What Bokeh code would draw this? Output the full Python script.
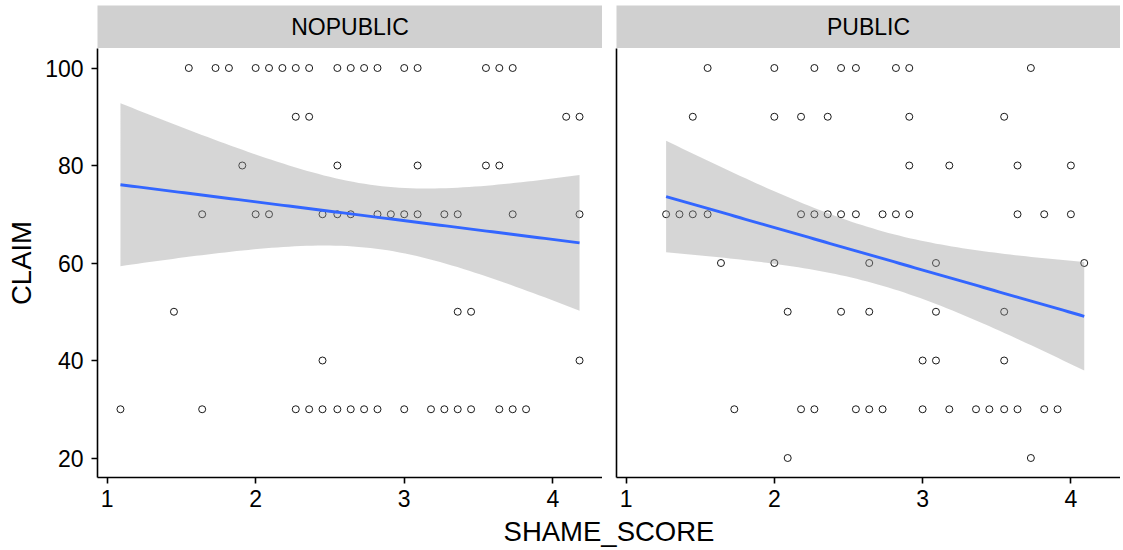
import numpy as np
from bokeh.plotting import figure
from bokeh.layouts import column, row
from bokeh.models import Range1d, FixedTicker
from bokeh.core.properties import value
from bokeh.embed import file_html
from bokeh.resources import INLINE

# ---------------- data (overplotted points appear twice) ----------------
panels = ["NOPUBLIC", "PUBLIC"]

nopublic_shame = [
    1.55, 1.73, 1.82, 2.00, 2.09, 2.09, 2.18, 2.27, 2.36, 2.55, 2.64, 2.73, 2.73, 2.82, 3.00, 3.00, 3.09, 3.55, 3.64, 3.73,
    2.27, 2.36, 2.36, 4.09, 4.18,
    1.91, 2.55, 3.09, 3.09, 3.55, 3.64,
    1.64, 2.00, 2.09, 2.45, 2.45, 2.55, 2.64, 2.64, 2.82, 2.91, 3.00, 3.09, 3.27, 3.36, 3.73, 4.18, 4.18,
    1.45, 3.36, 3.45,
    2.45, 4.18,
    1.09, 1.64, 2.27, 2.36, 2.45, 2.55, 2.64, 2.73, 2.82, 3.00, 3.18, 3.27, 3.36, 3.45, 3.64, 3.73, 3.82,
]
nopublic_claim = (
    [100] * 20 + [90] * 5 + [80] * 6 + [70] * 17 + [50] * 3 + [40] * 2 + [30] * 17
)

public_shame = [
    1.55, 2.00, 2.27, 2.45, 2.55, 2.82, 2.91, 3.73,
    1.45, 2.00, 2.18, 2.36, 2.91, 3.55,
    2.91, 3.18, 3.64, 4.00,
    1.27, 1.27, 1.27, 1.27, 1.36, 1.36, 1.45, 1.55, 2.18, 2.27, 2.36, 2.45, 2.55, 2.55, 2.73, 2.82, 2.91, 3.64, 3.82, 4.00,
    1.64, 2.00, 2.64, 3.09, 4.09,
    2.09, 2.45, 2.64, 3.09, 3.09, 3.09, 3.55,
    3.00, 3.09, 3.55,
    1.73, 2.18, 2.27, 2.55, 2.64, 2.73, 3.00, 3.18, 3.36, 3.45, 3.55, 3.64, 3.82, 3.91, 3.91,
    2.09, 3.73, 3.73,
]
public_claim = (
    [100] * 8 + [90] * 6 + [80] * 4 + [70] * 20 + [60] * 5 + [50] * 7 + [40] * 3 + [30] * 15 + [20] * 3
)

x_ticks = [1, 2, 3, 4]
y_ticks = [20, 40, 60, 80, 100]

FONT = "Liberation Sans"


def tcrit(df):
    z = 1.959964
    return z + (z ** 3 + z) / (4 * df) + (5 * z ** 5 + 16 * z ** 3 + 3 * z) / (96 * df ** 2)


def lm_band(x, y, npts=80):
    x = np.asarray(x, float)
    y = np.asarray(y, float)
    n = len(x)
    b, a = np.polyfit(x, y, 1)
    xs = np.linspace(x.min(), x.max(), npts)
    fit = a + b * xs
    resid = y - (a + b * x)
    s = np.sqrt(np.sum(resid ** 2) / (n - 2))
    sxx = np.sum((x - x.mean()) ** 2)
    se = s * np.sqrt(1.0 / n + (xs - x.mean()) ** 2 / sxx)
    t = tcrit(n - 2)
    return xs, fit, fit - t * se, fit + t * se


allx = nopublic_shame + public_shame
xmin, xmax = min(allx), max(allx)
xpad = (xmax - xmin) * 0.05
XR = (xmin - xpad, xmax + xpad)
ymin, ymax = min(nopublic_claim + public_claim), max(nopublic_claim + public_claim)
ypad = (ymax - ymin) * 0.05
YR = (ymin - ypad, ymax + ypad)

TOP_B = 5
STRIP_H = 43
FRAME_H = 429
BOT_B = 35
TITLE_H = 36
LEFT_B = 97
GAP = 14
FW_L = 505
FW_R = 504

TICK_FS = "23px"
TITLE_FS = "27.5px"
STRIP_FS = "23px"
STRIP_FILL = "#D0D0D0"


def make_strip(label, left_border, fw):
    s = figure(x_range=Range1d(0, 1), y_range=Range1d(0, 1),
               frame_width=fw, frame_height=STRIP_H,
               min_border_left=left_border, min_border_right=0,
               min_border_top=TOP_B, min_border_bottom=0,
               x_axis_location=None, y_axis_location=None,
               toolbar_location=None, output_backend="svg")
    s.background_fill_color = STRIP_FILL
    s.border_fill_color = "white"
    s.outline_line_color = None
    s.grid.visible = False
    s.text(x=[0.5], y=[0.5], text=[label], text_align="center", text_baseline="middle",
           text_font=value(FONT), text_font_size=STRIP_FS, text_color="black")
    return s


def make_panel(xv, yv, left_border, fw, show_y):
    p = figure(x_range=Range1d(*XR), y_range=Range1d(*YR),
               frame_width=fw, frame_height=FRAME_H,
               min_border_left=left_border, min_border_right=0,
               min_border_top=0, min_border_bottom=BOT_B,
               toolbar_location=None, output_backend="svg")
    p.outline_line_color = None
    p.grid.visible = False
    p.background_fill_color = "white"

    for ax in (p.xaxis[0], p.yaxis[0]):
        ax.axis_line_color = "black"
        ax.axis_line_width = 1.6
        ax.major_tick_line_color = "black"
        ax.major_tick_line_width = 1.6
        ax.major_tick_in = 0
        ax.major_tick_out = 6
        ax.minor_tick_line_color = None
        ax.major_label_text_font = FONT
        ax.major_label_text_font_size = TICK_FS
        ax.major_label_text_color = "black"
    p.xaxis[0].ticker = FixedTicker(ticks=x_ticks)
    p.xaxis[0].major_label_standoff = 6

    if show_y:
        p.yaxis[0].ticker = FixedTicker(ticks=y_ticks)
        p.yaxis[0].major_label_standoff = 8
        p.yaxis[0].axis_label = "CLAIM"
        p.yaxis[0].axis_label_text_font = FONT
        p.yaxis[0].axis_label_text_font_size = TITLE_FS
        p.yaxis[0].axis_label_text_font_style = "normal"
        p.yaxis[0].axis_label_text_color = "black"
        p.yaxis[0].axis_label_standoff = 5
    else:
        p.yaxis[0].ticker = FixedTicker(ticks=[])
        p.yaxis[0].major_tick_out = 0
        p.yaxis[0].major_label_standoff = 0

    # overplotted observations are drawn once (as a single visible circle)
    pts = list(dict.fromkeys(zip(xv, yv)))
    p.scatter([q[0] for q in pts], [q[1] for q in pts], marker="circle", size=7,
              fill_color=None, line_color="black", line_width=0.9)
    xs, fit, lo, hi = lm_band(xv, yv)
    p.varea(x=xs, y1=lo, y2=hi, fill_color="#999999", fill_alpha=0.4)
    p.line(xs, fit, line_color="#3366FF", line_width=2.9)
    return p


s1 = make_strip(panels[0], LEFT_B, FW_L)
s2 = make_strip(panels[1], GAP, FW_R)
p1 = make_panel(nopublic_shame, nopublic_claim, LEFT_B, FW_L, True)
p2 = make_panel(public_shame, public_claim, GAP, FW_R, False)

total_w = LEFT_B + FW_L + GAP + FW_R
t = figure(x_range=Range1d(0, total_w), y_range=Range1d(0, TITLE_H),
           width=total_w, height=TITLE_H, min_border=0,
           x_axis_location=None, y_axis_location=None,
           toolbar_location=None, output_backend="svg")
t.outline_line_color = None
t.grid.visible = False
t.text(x=[LEFT_B + (FW_L + GAP + FW_R) / 2], y=[TITLE_H - 19], text=["SHAME_SCORE"],
       text_align="center", text_baseline="middle",
       text_font=value(FONT), text_font_size=TITLE_FS, text_color="black")

layout = column(row(s1, s2, spacing=0), row(p1, p2, spacing=0), t, spacing=0)

open("out.html", "w").write(file_html(layout, INLINE))
